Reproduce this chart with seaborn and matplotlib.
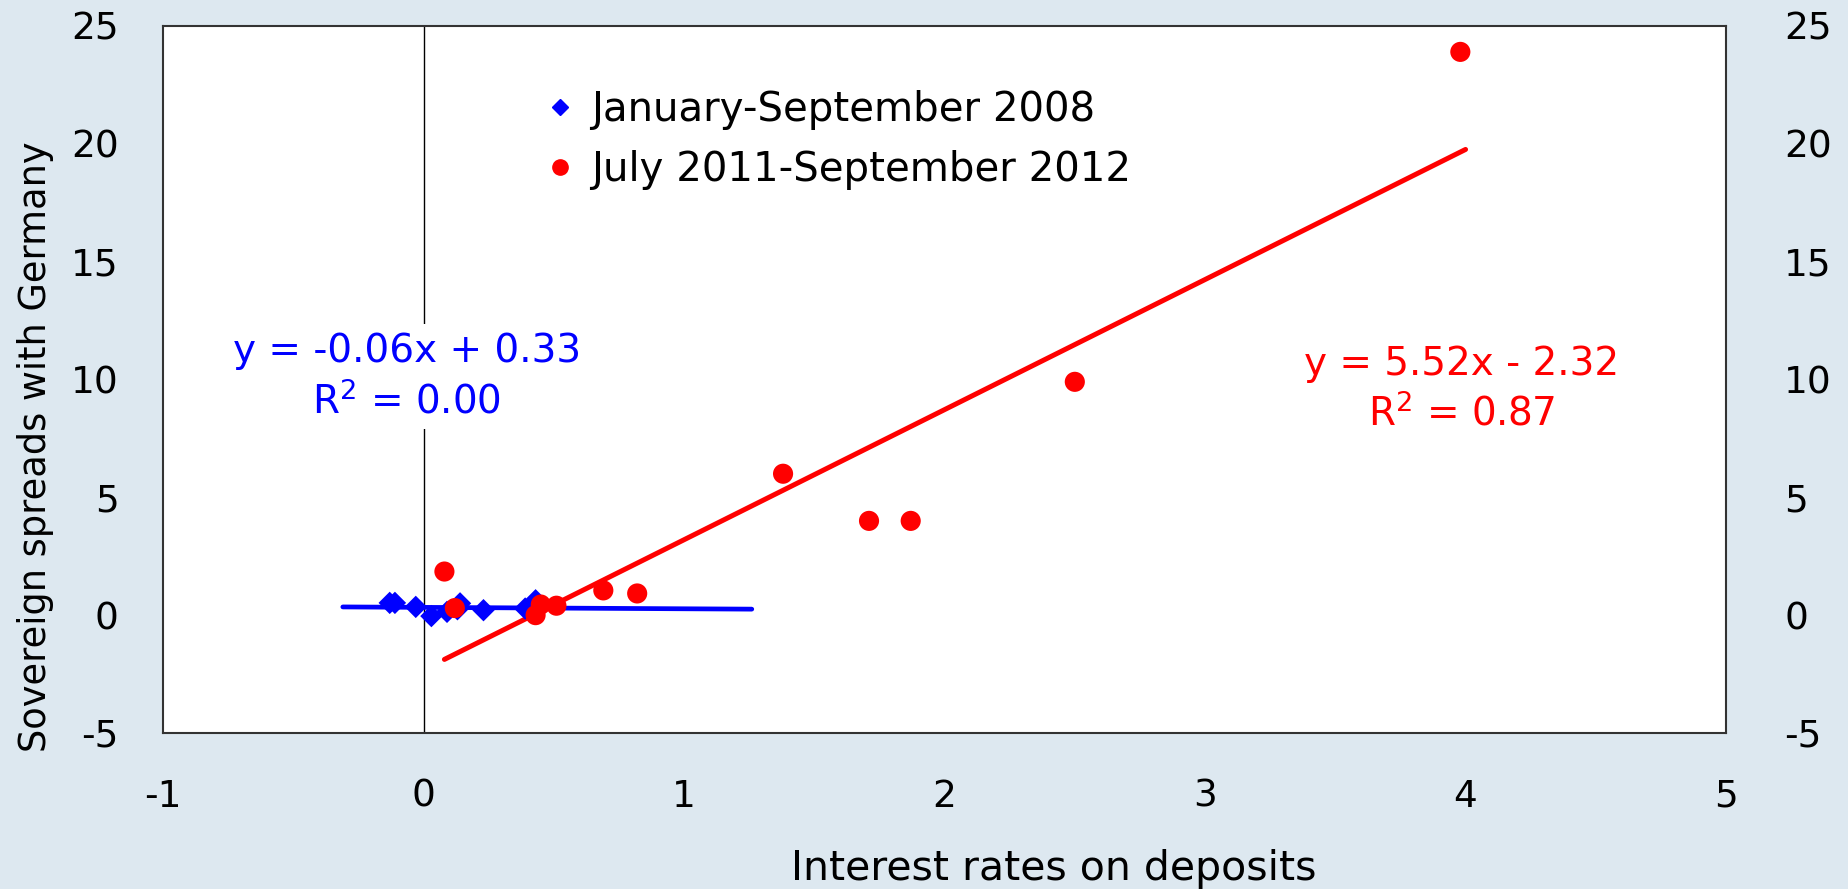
import matplotlib
matplotlib.use("Agg")
import matplotlib.pyplot as plt
from matplotlib.lines import Line2D
import numpy as np
import pandas as pd
import seaborn as sns

# Données
periodes = ["January-September 2008", "July 2011-September 2012"]

taux_2008 = [-0.13, -0.11, -0.03, 0.03, 0.09, 0.13, 0.14, 0.23, 0.39, 0.43]
spread_2008 = [0.52, 0.52, 0.35, -0.04, 0.14, 0.25, 0.50, 0.21, 0.28, 0.63]

taux_2011 = [0.08, 0.12, 0.43, 0.45, 0.51, 0.69, 0.82, 1.38, 1.71, 1.87, 2.50, 3.98]
spread_2011 = [1.85, 0.30, 0.00, 0.45, 0.40, 1.05, 0.92, 6.00, 4.00, 4.00, 9.90, 23.90]

# Droites de tendance (pente, ordonnée, R², étendue en x)
pente_2008, ordonnee_2008, r2_2008 = -0.06, 0.33, 0.00
etendue_2008 = [-0.31, 1.26]
pente_2011, ordonnee_2011, r2_2011 = 5.52, -2.32, 0.87
etendue_2011 = [0.08, 4.0]

x_ticks = [-1, 0, 1, 2, 3, 4, 5]
y_ticks = [-5, 0, 5, 10, 15, 20, 25]

bleu = "#0000ff"
rouge = "#ff0000"
fond = "#dde8f0"

df = pd.concat([
    pd.DataFrame({"taux": taux_2008, "spread": spread_2008, "periode": periodes[0]}),
    pd.DataFrame({"taux": taux_2011, "spread": spread_2011, "periode": periodes[1]}),
])

sns.set_style("white")
plt.rcParams["font.family"] = ["DejaVu Sans"]
plt.rcParams["axes.unicode_minus"] = False
plt.rcParams["text.color"] = "black"
plt.rcParams["xtick.color"] = "black"
plt.rcParams["ytick.color"] = "black"
plt.rcParams["axes.labelcolor"] = "black"

fig = plt.figure(figsize=(18.49, 8.89), dpi=100, facecolor=fond)
ax = fig.add_axes([0.0882, 0.1755, 0.8453, 0.7953])
ax.set_facecolor("white")

ax.axvline(0, color="black", lw=1, zorder=1)

# Droites de tendance
xs = np.array(etendue_2008)
ax.plot(xs, pente_2008 * xs + ordonnee_2008, color=bleu, lw=3.4, zorder=3)
xs = np.array(etendue_2011)
ax.plot(xs, pente_2011 * xs + ordonnee_2011, color=rouge, lw=3.6, zorder=3)

sns.scatterplot(data=df[df.periode == periodes[0]], x="taux", y="spread",
                color=bleu, marker="D", s=130, edgecolor="none", linewidth=0,
                legend=False, ax=ax, zorder=4)
sns.scatterplot(data=df[df.periode == periodes[1]], x="taux", y="spread",
                color=rouge, marker="o", s=210, edgecolor="none", linewidth=0,
                legend=False, ax=ax, zorder=4)

ax.set_xlim(-1, 5)
ax.set_ylim(-5, 25)
ax.set_xticks(x_ticks)
ax.set_yticks(y_ticks)
ax.tick_params(axis="x", length=0, labelsize=27, pad=33)
ax.tick_params(axis="y", length=0, labelsize=27, pad=32)
ax.set_xlabel("")
ax.set_ylabel("")
for s in ax.spines.values():
    s.set_color("#333333")
    s.set_linewidth(1.5)

ax2 = ax.twinx()
ax2.set_ylim(-5, 25)
ax2.set_yticks(y_ticks)
ax2.tick_params(length=0, labelsize=27, pad=42)
for s in ax2.spines.values():
    s.set_visible(False)

# Légende
poignees = [
    Line2D([], [], marker="D", color=bleu, ls="none", markersize=8),
    Line2D([], [], marker="o", color=rouge, ls="none", markersize=11),
]
ax.legend(poignees, periodes, loc="upper left", bbox_to_anchor=(0.231, 0.932),
          frameon=False, fontsize=29, handletextpad=0.25, labelspacing=0.5,
          handlelength=1.0, borderaxespad=0)

# Équations
ax.text(0.156, 0.504, f"y = {pente_2008:.2f}x + {ordonnee_2008:.2f}\nR$^2$ = {r2_2008:.2f}",
        transform=ax.transAxes, ha="center", va="center", color=bleu, fontsize=28,
        linespacing=1.35, bbox=dict(facecolor="white", edgecolor="none", pad=6), zorder=5)
ax.text(0.831, 0.486, f"y = {pente_2011:.2f}x - {abs(ordonnee_2011):.2f}\nR$^2$ = {r2_2011:.2f}",
        transform=ax.transAxes, ha="center", va="center", color=rouge, fontsize=28,
        linespacing=1.35, zorder=5)

fig.text(0.570, 0.022, "Interest rates on deposits", ha="center", va="center", fontsize=29.5)
fig.text(0.019, 0.497, "Sovereign spreads with Germany", ha="center", va="center",
         rotation=90, fontsize=26.5)

fig.savefig("out.png", dpi=100, facecolor=fond)
